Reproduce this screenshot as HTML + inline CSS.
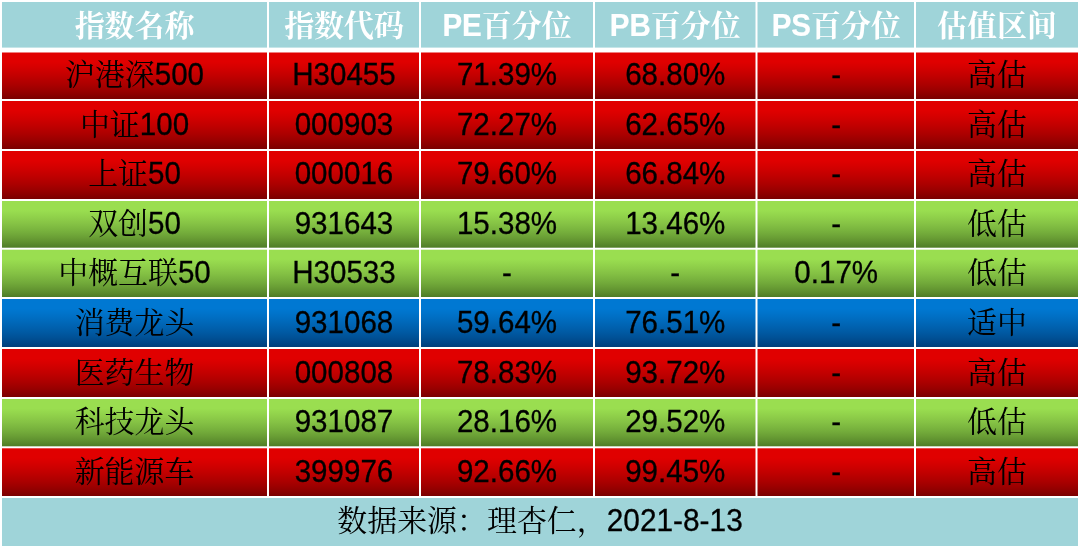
<!DOCTYPE html>
<html lang="zh-CN">
<head>
<meta charset="utf-8">
<title>指数估值表</title>
<style>
html,body{margin:0;padding:0;background:#fff}
#w{position:relative;width:1080px;height:548px;overflow:hidden;background:#fff;
  font-family:"Liberation Sans",sans-serif;font-size:29.55px;color:#000}
#bg{position:absolute;left:0;top:0;display:block}
.c{position:absolute;will-change:transform;height:34px;display:flex;justify-content:center;white-space:nowrap;overflow:visible}
.t{display:block;line-height:34px;height:34px}
.d span,.f span{-webkit-text-stroke:0.3px #000}
.h span{-webkit-text-stroke:0.2px #fff}
.f span{font-size:29.85px}
.h{color:#fff;font-weight:bold}
.t span{display:inline-block;line-height:34px;transform:scaleY(1.035);transform-origin:0 27.24px}
.t span.z{display:inline-block;font-size:29.95px;line-height:34px;transform:none;-webkit-text-stroke:0;font-family:"Liberation Sans","Noto Serif CJK SC",serif}
</style>
</head>
<body>
<div id="w">
<svg id="bg" width="1080" height="548" viewBox="0 0 1080 548" aria-hidden="true"><defs><linearGradient id="gr" x1="0" y1="0" x2="0" y2="1"><stop offset="0" stop-color="#e00000"/><stop offset="0.2" stop-color="#e00000"/><stop offset="0.3" stop-color="#d70000"/><stop offset="0.4" stop-color="#cd0000"/><stop offset="0.5" stop-color="#c20000"/><stop offset="0.6" stop-color="#b60000"/><stop offset="0.7" stop-color="#aa0000"/><stop offset="0.8" stop-color="#9c0000"/><stop offset="0.9" stop-color="#8c0000"/><stop offset="1" stop-color="#7a0000"/></linearGradient><linearGradient id="gg" x1="0" y1="0" x2="0" y2="1"><stop offset="0" stop-color="#9ade50"/><stop offset="0.2" stop-color="#9ade50"/><stop offset="0.3" stop-color="#93d54c"/><stop offset="0.4" stop-color="#8ccb48"/><stop offset="0.5" stop-color="#84c144"/><stop offset="0.6" stop-color="#7bb63f"/><stop offset="0.7" stop-color="#72aa3a"/><stop offset="0.8" stop-color="#689c34"/><stop offset="0.9" stop-color="#5c8d2e"/><stop offset="1" stop-color="#4e7c26"/></linearGradient><linearGradient id="gb" x1="0" y1="0" x2="0" y2="1"><stop offset="0" stop-color="#0078d2"/><stop offset="0.2" stop-color="#0078d2"/><stop offset="0.3" stop-color="#0073ca"/><stop offset="0.4" stop-color="#006dc1"/><stop offset="0.5" stop-color="#0067b7"/><stop offset="0.6" stop-color="#0060ad"/><stop offset="0.7" stop-color="#0059a2"/><stop offset="0.8" stop-color="#005196"/><stop offset="0.9" stop-color="#004889"/><stop offset="1" stop-color="#003e7a"/></linearGradient></defs><rect x="2" y="2" width="265" height="45.6" fill="#9fd4d9"/><rect x="269" y="2" width="150" height="45.6" fill="#9fd4d9"/><rect x="421" y="2" width="172" height="45.6" fill="#9fd4d9"/><rect x="595" y="2" width="160.5" height="45.6" fill="#9fd4d9"/><rect x="757.5" y="2" width="156.5" height="45.6" fill="#9fd4d9"/><rect x="916" y="2" width="162" height="45.6" fill="#9fd4d9"/><rect x="2" y="52.5" width="265" height="46.5" fill="url(#gr)"/><rect x="269" y="52.5" width="150" height="46.5" fill="url(#gr)"/><rect x="421" y="52.5" width="172" height="46.5" fill="url(#gr)"/><rect x="595" y="52.5" width="160.5" height="46.5" fill="url(#gr)"/><rect x="757.5" y="52.5" width="156.5" height="46.5" fill="url(#gr)"/><rect x="916" y="52.5" width="162" height="46.5" fill="url(#gr)"/><rect x="2" y="101" width="265" height="48" fill="url(#gr)"/><rect x="269" y="101" width="150" height="48" fill="url(#gr)"/><rect x="421" y="101" width="172" height="48" fill="url(#gr)"/><rect x="595" y="101" width="160.5" height="48" fill="url(#gr)"/><rect x="757.5" y="101" width="156.5" height="48" fill="url(#gr)"/><rect x="916" y="101" width="162" height="48" fill="url(#gr)"/><rect x="2" y="151" width="265" height="48" fill="url(#gr)"/><rect x="269" y="151" width="150" height="48" fill="url(#gr)"/><rect x="421" y="151" width="172" height="48" fill="url(#gr)"/><rect x="595" y="151" width="160.5" height="48" fill="url(#gr)"/><rect x="757.5" y="151" width="156.5" height="48" fill="url(#gr)"/><rect x="916" y="151" width="162" height="48" fill="url(#gr)"/><rect x="2" y="201" width="265" height="46.7" fill="url(#gg)"/><rect x="269" y="201" width="150" height="46.7" fill="url(#gg)"/><rect x="421" y="201" width="172" height="46.7" fill="url(#gg)"/><rect x="595" y="201" width="160.5" height="46.7" fill="url(#gg)"/><rect x="757.5" y="201" width="156.5" height="46.7" fill="url(#gg)"/><rect x="916" y="201" width="162" height="46.7" fill="url(#gg)"/><rect x="2" y="249.7" width="265" height="47.3" fill="url(#gg)"/><rect x="269" y="249.7" width="150" height="47.3" fill="url(#gg)"/><rect x="421" y="249.7" width="172" height="47.3" fill="url(#gg)"/><rect x="595" y="249.7" width="160.5" height="47.3" fill="url(#gg)"/><rect x="757.5" y="249.7" width="156.5" height="47.3" fill="url(#gg)"/><rect x="916" y="249.7" width="162" height="47.3" fill="url(#gg)"/><rect x="2" y="299" width="265" height="48" fill="url(#gb)"/><rect x="269" y="299" width="150" height="48" fill="url(#gb)"/><rect x="421" y="299" width="172" height="48" fill="url(#gb)"/><rect x="595" y="299" width="160.5" height="48" fill="url(#gb)"/><rect x="757.5" y="299" width="156.5" height="48" fill="url(#gb)"/><rect x="916" y="299" width="162" height="48" fill="url(#gb)"/><rect x="2" y="349" width="265" height="48" fill="url(#gr)"/><rect x="269" y="349" width="150" height="48" fill="url(#gr)"/><rect x="421" y="349" width="172" height="48" fill="url(#gr)"/><rect x="595" y="349" width="160.5" height="48" fill="url(#gr)"/><rect x="757.5" y="349" width="156.5" height="48" fill="url(#gr)"/><rect x="916" y="349" width="162" height="48" fill="url(#gr)"/><rect x="2" y="399" width="265" height="47.3" fill="url(#gg)"/><rect x="269" y="399" width="150" height="47.3" fill="url(#gg)"/><rect x="421" y="399" width="172" height="47.3" fill="url(#gg)"/><rect x="595" y="399" width="160.5" height="47.3" fill="url(#gg)"/><rect x="757.5" y="399" width="156.5" height="47.3" fill="url(#gg)"/><rect x="916" y="399" width="162" height="47.3" fill="url(#gg)"/><rect x="2" y="448.3" width="265" height="47.7" fill="url(#gr)"/><rect x="269" y="448.3" width="150" height="47.7" fill="url(#gr)"/><rect x="421" y="448.3" width="172" height="47.7" fill="url(#gr)"/><rect x="595" y="448.3" width="160.5" height="47.7" fill="url(#gr)"/><rect x="757.5" y="448.3" width="156.5" height="47.7" fill="url(#gr)"/><rect x="916" y="448.3" width="162" height="47.7" fill="url(#gr)"/><rect x="2" y="498" width="1076" height="48" fill="#9fd4d9"/></svg>
<div class="c h" style="left:2px;top:8.66px;width:265px"><span class="t"><span class="z">指数名称</span></span></div>
<div class="c h" style="left:269px;top:8.66px;width:150px"><span class="t"><span class="z">指数代码</span></span></div>
<div class="c h" style="left:421px;top:8.66px;width:172px"><span class="t"><span>PE</span><span class="z">百分位</span></span></div>
<div class="c h" style="left:595px;top:8.66px;width:160.5px"><span class="t"><span>PB</span><span class="z">百分位</span></span></div>
<div class="c h" style="left:757.5px;top:8.66px;width:156.5px"><span class="t"><span>PS</span><span class="z">百分位</span></span></div>
<div class="c h" style="left:916px;top:8.66px;width:162px"><span class="t"><span class="z">估值区间</span></span></div>
<div class="c d" style="left:2px;top:58.26px;width:265px"><span class="t"><span class="z">沪港深</span><span>500</span></span></div>
<div class="c d" style="left:269px;top:58.26px;width:150px"><span class="t"><span>H30455</span></span></div>
<div class="c d" style="left:421px;top:58.26px;width:172px"><span class="t"><span>71.39%</span></span></div>
<div class="c d" style="left:595px;top:58.26px;width:160.5px"><span class="t"><span>68.80%</span></span></div>
<div class="c d" style="left:757.5px;top:58.26px;width:156.5px"><span class="t"><span>-</span></span></div>
<div class="c d" style="left:916px;top:58.26px;width:162px"><span class="t"><span class="z">高估</span></span></div>
<div class="c d" style="left:2px;top:107.66px;width:265px"><span class="t"><span class="z">中证</span><span>100</span></span></div>
<div class="c d" style="left:269px;top:107.66px;width:150px"><span class="t"><span>000903</span></span></div>
<div class="c d" style="left:421px;top:107.66px;width:172px"><span class="t"><span>72.27%</span></span></div>
<div class="c d" style="left:595px;top:107.66px;width:160.5px"><span class="t"><span>62.65%</span></span></div>
<div class="c d" style="left:757.5px;top:107.66px;width:156.5px"><span class="t"><span>-</span></span></div>
<div class="c d" style="left:916px;top:107.66px;width:162px"><span class="t"><span class="z">高估</span></span></div>
<div class="c d" style="left:2px;top:157.26px;width:265px"><span class="t"><span class="z">上证</span><span>50</span></span></div>
<div class="c d" style="left:269px;top:157.26px;width:150px"><span class="t"><span>000016</span></span></div>
<div class="c d" style="left:421px;top:157.26px;width:172px"><span class="t"><span>79.60%</span></span></div>
<div class="c d" style="left:595px;top:157.26px;width:160.5px"><span class="t"><span>66.84%</span></span></div>
<div class="c d" style="left:757.5px;top:157.26px;width:156.5px"><span class="t"><span>-</span></span></div>
<div class="c d" style="left:916px;top:157.26px;width:162px"><span class="t"><span class="z">高估</span></span></div>
<div class="c d" style="left:2px;top:207.06px;width:265px"><span class="t"><span class="z">双创</span><span>50</span></span></div>
<div class="c d" style="left:269px;top:207.06px;width:150px"><span class="t"><span>931643</span></span></div>
<div class="c d" style="left:421px;top:207.06px;width:172px"><span class="t"><span>15.38%</span></span></div>
<div class="c d" style="left:595px;top:207.06px;width:160.5px"><span class="t"><span>13.46%</span></span></div>
<div class="c d" style="left:757.5px;top:207.06px;width:156.5px"><span class="t"><span>-</span></span></div>
<div class="c d" style="left:916px;top:207.06px;width:162px"><span class="t"><span class="z">低估</span></span></div>
<div class="c d" style="left:2px;top:255.86px;width:265px"><span class="t"><span class="z">中概互联</span><span>50</span></span></div>
<div class="c d" style="left:269px;top:255.86px;width:150px"><span class="t"><span>H30533</span></span></div>
<div class="c d" style="left:421px;top:255.86px;width:172px"><span class="t"><span>-</span></span></div>
<div class="c d" style="left:595px;top:255.86px;width:160.5px"><span class="t"><span>-</span></span></div>
<div class="c d" style="left:757.5px;top:255.86px;width:156.5px"><span class="t"><span>0.17%</span></span></div>
<div class="c d" style="left:916px;top:255.86px;width:162px"><span class="t"><span class="z">低估</span></span></div>
<div class="c d" style="left:2px;top:305.66px;width:265px"><span class="t"><span class="z">消费龙头</span></span></div>
<div class="c d" style="left:269px;top:305.66px;width:150px"><span class="t"><span>931068</span></span></div>
<div class="c d" style="left:421px;top:305.66px;width:172px"><span class="t"><span>59.64%</span></span></div>
<div class="c d" style="left:595px;top:305.66px;width:160.5px"><span class="t"><span>76.51%</span></span></div>
<div class="c d" style="left:757.5px;top:305.66px;width:156.5px"><span class="t"><span>-</span></span></div>
<div class="c d" style="left:916px;top:305.66px;width:162px"><span class="t"><span class="z">适中</span></span></div>
<div class="c d" style="left:2px;top:355.66px;width:265px"><span class="t"><span class="z">医药生物</span></span></div>
<div class="c d" style="left:269px;top:355.66px;width:150px"><span class="t"><span>000808</span></span></div>
<div class="c d" style="left:421px;top:355.66px;width:172px"><span class="t"><span>78.83%</span></span></div>
<div class="c d" style="left:595px;top:355.66px;width:160.5px"><span class="t"><span>93.72%</span></span></div>
<div class="c d" style="left:757.5px;top:355.66px;width:156.5px"><span class="t"><span>-</span></span></div>
<div class="c d" style="left:916px;top:355.66px;width:162px"><span class="t"><span class="z">高估</span></span></div>
<div class="c d" style="left:2px;top:405.06px;width:265px"><span class="t"><span class="z">科技龙头</span></span></div>
<div class="c d" style="left:269px;top:405.06px;width:150px"><span class="t"><span>931087</span></span></div>
<div class="c d" style="left:421px;top:405.06px;width:172px"><span class="t"><span>28.16%</span></span></div>
<div class="c d" style="left:595px;top:405.06px;width:160.5px"><span class="t"><span>29.52%</span></span></div>
<div class="c d" style="left:757.5px;top:405.06px;width:156.5px"><span class="t"><span>-</span></span></div>
<div class="c d" style="left:916px;top:405.06px;width:162px"><span class="t"><span class="z">低估</span></span></div>
<div class="c d" style="left:2px;top:454.66px;width:265px"><span class="t"><span class="z">新能源车</span></span></div>
<div class="c d" style="left:269px;top:454.66px;width:150px"><span class="t"><span>399976</span></span></div>
<div class="c d" style="left:421px;top:454.66px;width:172px"><span class="t"><span>92.66%</span></span></div>
<div class="c d" style="left:595px;top:454.66px;width:160.5px"><span class="t"><span>99.45%</span></span></div>
<div class="c d" style="left:757.5px;top:454.66px;width:156.5px"><span class="t"><span>-</span></span></div>
<div class="c d" style="left:916px;top:454.66px;width:162px"><span class="t"><span class="z">高估</span></span></div>
<div class="c f" style="left:2px;top:504.06px;width:1076px"><span class="t"><span class="z">数据来源：理杏仁，</span><span>2021-8-13</span></span></div>
</div>
</body>
</html>
